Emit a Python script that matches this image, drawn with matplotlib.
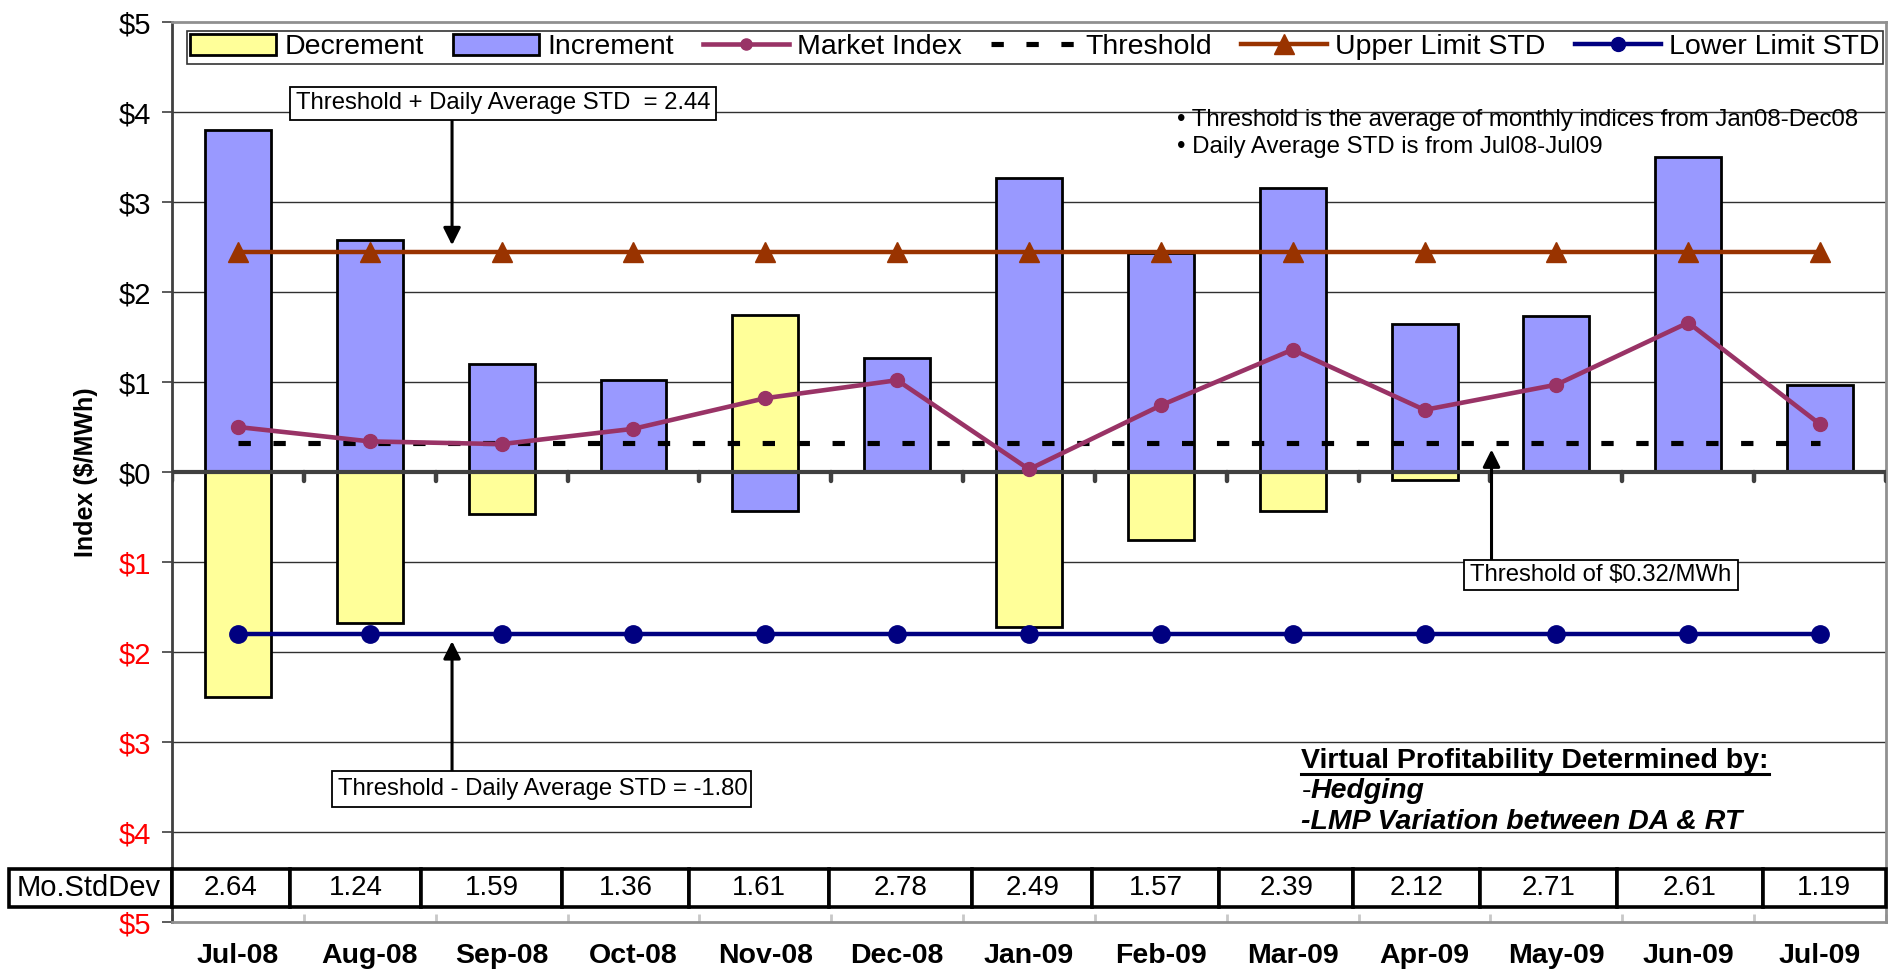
import matplotlib
matplotlib.use("Agg")
import matplotlib.pyplot as plt
from matplotlib.patches import Rectangle, Patch
from matplotlib.lines import Line2D
import numpy as np

plt.rcParams['font.family'] = ['Liberation Sans', 'DejaVu Sans']

# ---- data ----
months = ["Jul-08", "Aug-08", "Sep-08", "Oct-08", "Nov-08", "Dec-08", "Jan-09",
          "Feb-09", "Mar-09", "Apr-09", "May-09", "Jun-09", "Jul-09"]
increment = [3.80, 2.58, 1.20, 1.02, -0.43, 1.27, 3.27, 2.43, 3.16, 1.65, 1.73, 3.50, 0.97]
decrement = [-2.50, -1.68, -0.47, 0.0, 1.75, 0.0, -1.72, -0.75, -0.43, -0.09, 0.0, 0.0, 0.0]
market_index = [0.50, 0.34, 0.31, 0.48, 0.82, 1.02, 0.03, 0.74, 1.36, 0.69, 0.97, 1.66, 0.53]
threshold = 0.32
upper_limit = 2.44
lower_limit = -1.80
mo_std_dev = [2.64, 1.24, 1.59, 1.36, 1.61, 2.78, 2.49, 1.57, 2.39, 2.12, 2.71, 2.61, 1.19]
y_values = [-5, -4, -3, -2, -1, 0, 1, 2, 3, 4, 5]

# ---- layout ----
cell_edges = [-0.5, 0.395, 1.389, 2.459, 3.423, 4.485, 5.570, 6.480, 7.444,
              8.461, 9.424, 10.456, 11.564, 12.5]
label_cell_left = -1.737
row_top, row_bot = -4.41, -4.83

YELLOW = "#FFFF99"
BLUE = "#9999FF"
PURPLE = "#993366"
BROWN = "#993300"
NAVY = "#000080"
THRESH_DASH = (0, (2.4, 4.4))

fig = plt.figure(figsize=(18.89, 9.74), dpi=100)
ax = fig.add_axes([172 / 1889, 1 - 922 / 974, (1886 - 172) / 1889, 900 / 974])

x = np.arange(len(months))
ax.set_xlim(-0.5, len(months) - 0.5)
ax.set_ylim(-5, 5)

# grid
for v in y_values[1:-1]:
    if v != 0:
        ax.axhline(v, color="#303030", lw=1.0, zorder=0)

# bars
dec_idx = [i for i, v in enumerate(decrement) if v != 0]
inc_idx = [i for i, v in enumerate(increment) if v != 0]
ax.bar([x[i] for i in dec_idx], [decrement[i] for i in dec_idx], width=0.5,
       color=YELLOW, edgecolor="black", lw=2.0, zorder=2)
ax.bar([x[i] for i in inc_idx], [increment[i] for i in inc_idx], width=0.5,
       color=BLUE, edgecolor="black", lw=2.0, zorder=2)

# category axis at zero with boundary ticks
ax.axhline(0, color="#404040", lw=3.0, zorder=3)
for b in np.arange(-0.5, len(months), 1.0):
    ax.plot([b, b], [0, -0.1], color="#404040", lw=3.2, solid_capstyle="round",
            zorder=3)

# lines
ax.plot(x, [threshold] * len(x), color="black", lw=3.7,
        linestyle=THRESH_DASH, zorder=4)
ax.plot(x, market_index, color=PURPLE, lw=3.3, marker="o", ms=10, zorder=5)
ax.plot(x, [upper_limit] * len(x), color=BROWN, lw=3.2, marker="^", ms=15,
        zorder=5)
ax.plot(x, [lower_limit] * len(x), color=NAVY, lw=3.2, marker="o", ms=12.5,
        zorder=5)

# axes styling
for side in ["top", "right", "bottom"]:
    ax.spines[side].set_color("#909090")
    ax.spines[side].set_linewidth(2.0)
ax.spines["left"].set_color("#404040")
ax.spines["left"].set_linewidth(2.0)

ax.set_yticks(y_values)
ax.set_yticklabels(["${}".format(abs(v)) for v in y_values], fontsize=21)
for lab, v in zip(ax.get_yticklabels(), y_values):
    lab.set_color("red" if v < 0 else "black")
ax.tick_params(axis="y", direction="out", length=7, width=1.2, color="#404040",
               pad=8)

ax.set_xticks(x)
ax.set_xticklabels(months, fontsize=20.5, fontweight="bold")
ax.tick_params(axis="x", length=0, pad=15)
ax.set_xticks(np.arange(-0.5, len(months), 1.0), minor=True)
ax.tick_params(axis="x", which="minor", direction="in", length=6, width=2,
               color="#c8c8c8")

ax.set_ylabel("Index ($/MWh)", fontsize=18, fontweight="bold")
ax.yaxis.set_label_coords(-0.043, 0.5)

# legend
handles = [
    Patch(facecolor=YELLOW, edgecolor="black", lw=2.0),
    Patch(facecolor=BLUE, edgecolor="black", lw=2.0),
    Line2D([], [], color=PURPLE, lw=3.3, marker="o", ms=8),
    Line2D([], [], color="black", lw=3.7, linestyle=THRESH_DASH),
    Line2D([], [], color=BROWN, lw=3.2, marker="^", ms=14),
    Line2D([], [], color=NAVY, lw=3.2, marker="o", ms=10),
]
labels = ["Decrement", "Increment", "Market Index", "Threshold",
          "Upper Limit STD", "Lower Limit STD"]
leg = ax.legend(handles, labels, ncol=6, mode="expand", loc="center",
                bbox_to_anchor=(0.0088, 0.953, 0.9895, 0.038),
                fontsize=20.5, frameon=True, fancybox=False, borderpad=0.12,
                handlelength=3.0, handleheight=0.75, handletextpad=0.3,
                columnspacing=0.7, borderaxespad=0)
leg.get_frame().set_edgecolor("black")
leg.get_frame().set_linewidth(1.2)
leg.set_zorder(10)


# annotation boxes
def box(x0, x1, y0, y1, text, size=17.2):
    ax.add_patch(Rectangle((x0, y1), x1 - x0, y0 - y1, facecolor="white",
                           edgecolor="black", lw=1.3, zorder=8))
    ax.text(x0 + 0.045, (y0 + y1) / 2, text, fontsize=size, va="center",
            ha="left", zorder=9)


ARROW = dict(arrowstyle="-|>", color="black", lw=2.2, mutation_scale=26,
             shrinkA=0, shrinkB=0)

box(0.395, 3.627, 4.28, 3.91, "Threshold + Daily Average STD  = " + f"{upper_limit:.2f}")
ax.annotate("", xy=(1.624, 2.52), xytext=(1.624, 3.91), arrowprops=ARROW,
            zorder=7)

box(0.714, 3.893, -3.32, -3.72, "Threshold - Daily Average STD = " + f"{lower_limit:.2f}")
ax.annotate("", xy=(1.624, -1.88), xytext=(1.624, -3.32), arrowprops=ARROW,
            zorder=7)

box(9.303, 11.374, -0.978, -1.311, f"Threshold of ${threshold:.2f}/MWh")
ax.annotate("", xy=(9.508, 0.25), xytext=(9.508, -0.978), arrowprops=ARROW,
            zorder=7)

# notes
ax.text(7.126, 3.91, "\u2022 Threshold is the average of monthly indices from Jan08-Dec08",
        fontsize=17.3, va="center", ha="left", zorder=9)
ax.text(7.126, 3.61, "\u2022 Daily Average STD is from Jul08-Jul09",
        fontsize=17.3, va="center", ha="left", zorder=9)

VP_SIZE = 20.5
vp = ax.text(8.066, -3.21, "Virtual Profitability Determined by:", fontsize=VP_SIZE,
             fontweight="bold", va="center", ha="left", zorder=9)
dash = ax.text(8.066, -3.54, "-", fontsize=VP_SIZE, va="center", ha="left", zorder=9)
ax.text(8.066, -3.89, "-LMP Variation between DA & RT", fontsize=VP_SIZE,
        fontweight="bold", fontstyle="italic", va="center", ha="left", zorder=9)

# table row
ax.add_patch(Rectangle((label_cell_left, row_bot), -0.5 - label_cell_left,
                       row_top - row_bot, facecolor="white", edgecolor="black",
                       lw=2.6, clip_on=False, zorder=9))
ax.text(label_cell_left + 0.055, (row_top + row_bot) / 2, "Mo.StdDev",
        fontsize=21, va="center", ha="left", zorder=10, clip_on=False)
for i, v in enumerate(mo_std_dev):
    x0, x1 = cell_edges[i], cell_edges[i + 1]
    ax.add_patch(Rectangle((x0, row_bot), x1 - x0, row_top - row_bot,
                           facecolor="white", edgecolor="black", lw=2.6,
                           clip_on=False, zorder=9))
    ax.text((x0 + x1) / 2, (row_top + row_bot) / 2, f"{v:.2f}", fontsize=20,
            va="center", ha="center", zorder=10)

# underline and mixed-style text need rendered extents
fig.canvas.draw()
renderer = fig.canvas.get_renderer()
inv = ax.transData.inverted()
bb = vp.get_window_extent(renderer)
(xa, _), (xb, _) = inv.transform([[bb.x0, bb.y0], [bb.x1, bb.y0]])
ax.plot([xa, xb], [-3.36, -3.36], color="black", lw=2.2, zorder=9)
db = dash.get_window_extent(renderer)
xd = inv.transform([[db.x1, db.y0]])[0][0]
ax.text(xd, -3.54, "Hedging", fontsize=VP_SIZE, fontweight="bold",
        fontstyle="italic", va="center", ha="left", zorder=9)

fig.savefig("out.png", dpi=100, facecolor="white")
